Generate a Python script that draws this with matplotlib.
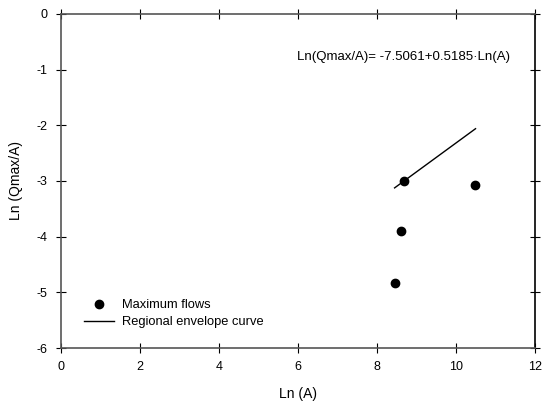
import matplotlib
matplotlib.use("Agg")
import matplotlib.pyplot as plt
import numpy as np

plt.rcParams['font.family'] = ['Liberation Sans', 'DejaVu Sans']
plt.rcParams['axes.unicode_minus'] = False

# observed maximum flows
ln_a = [8.45, 8.6, 8.68, 10.48]
ln_q = [-4.83, -3.89, -3.0, -3.07]

# regional envelope curve coefficients
a0 = -7.5061
a1 = 0.5185
curve_x = np.array([8.45, 10.5])
curve_y = a0 + a1 * curve_x

fig = plt.figure(figsize=(5.44, 4.08), dpi=100)
ax = fig.add_axes([0.112, 0.147, 0.871, 0.819])

ax.plot(ln_a, ln_q, 'o', color='black', markersize=6, label='Maximum flows')
ax.plot(curve_x, curve_y, '-', color='black', linewidth=1, label='Regional envelope curve')

ax.text(8.68, -0.77, 'Ln(Qmax/A)= -7.5061+0.5185\u00b7Ln(A)', ha='center', va='center', fontsize=9.5)

ax.set_xlim(0, 12)
ax.set_ylim(-6, 0)
ax.set_xticks(range(0, 13, 2))
ax.set_yticks(range(-6, 1))
ax.tick_params(direction='inout', length=7, width=0.8, top=True, right=True,
               labelsize=9, colors='black', pad=6)
for s in ax.spines.values():
    s.set_color('#555555')
    s.set_linewidth(1.2)
ax.spines['right'].set_color('black')

ax.set_xlabel('Ln (A)', fontsize=10, labelpad=10)
ax.set_ylabel('Ln (Qmax/A)', fontsize=10, labelpad=10)

ax.legend(loc='lower left', bbox_to_anchor=(0.025, 0.025), frameon=False, fontsize=9.3,
          handlelength=2.3, handletextpad=0.6, labelspacing=0.35)

fig.savefig('out.png', dpi=100)
